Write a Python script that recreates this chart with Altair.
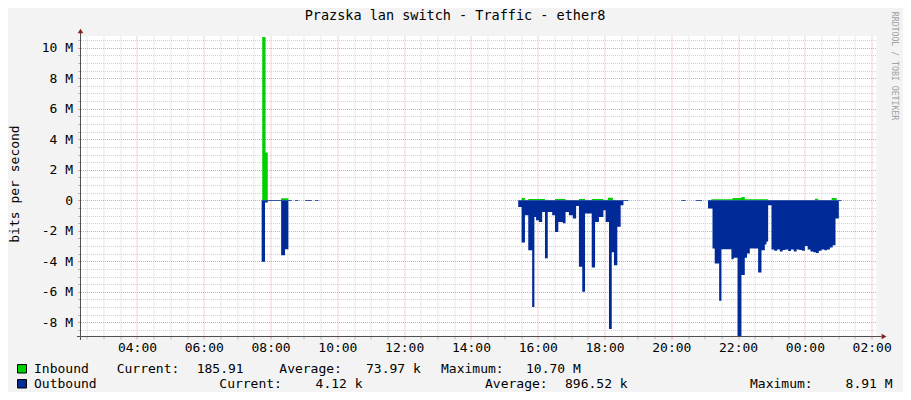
import altair as alt
import pandas as pd

# ---------------- texts ----------------
title_text = "Prazska lan switch - Traffic - ether8"
y_title = "bits per second"
watermark = "RRDTOOL / TOBI OETIKER"
series_names = ["Inbound", "Outbound"]
series_colors = ["#00CF00", "#002A97"]
legend_row1 = ["Inbound", "Current:", "185.91", "Average:", "73.97 k", "Maximum:", "10.70 M"]
legend_row2 = ["Outbound", "Current:", "4.12 k", "Average:", "896.52 k", "Maximum:", "8.91 M"]

# ---------------- data (bits per second, in M) ----------------
in_times = ["07:45", "07:51", "07:55", "08:19", "08:32",
            "15:31", "15:37", "15:43", "16:13", "16:31", "16:50", "17:14", "17:25",
            "17:37", "17:58", "18:06", "18:15",
            "21:12", "21:50", "22:06", "22:12", "22:54", "00:18", "00:24", "00:48", "00:57"]
in_vals = [10.70, 3.14, 0.0, 0.13, 0.0,
           0.15, 0.0, 0.09, 0.0, 0.08, 0.0, 0.08, 0.0,
           0.08, 0.0, 0.17, 0.0,
           0.07, 0.15, 0.22, 0.07, 0.0, 0.10, 0.0, 0.15, 0.0]

out_times = ["07:44", "07:50", "07:55", "08:19", "08:26", "08:32", "08:38", "08:44", "08:50",
             "09:02", "09:14", "09:20", "09:26",
             "15:25", "15:31", "15:37", "15:43", "15:50", "15:54", "15:57", "16:02", "16:08",
             "16:13", "16:18", "16:26", "16:31", "16:37", "16:45", "16:50", "16:56", "17:03",
             "17:09", "17:14", "17:20", "17:25", "17:37", "17:43", "17:50", "17:58", "18:02",
             "18:08", "18:13", "18:17", "18:23", "18:29", "18:34", "18:43",
             "20:18", "20:26", "20:44", "20:55",
             "21:06", "21:14", "21:18", "21:26", "21:30", "21:48", "21:52", "21:59", "22:06",
             "22:12", "22:16", "22:21", "22:36", "22:42", "22:48", "22:51", "22:54",
             "23:00", "23:05", "23:10", "23:15", "23:20", "23:25", "23:30", "23:35", "23:40",
             "23:45", "23:50", "23:55", "00:00", "00:05", "00:10", "00:15", "00:20", "00:25",
             "00:30", "00:35", "00:40", "00:45", "00:50", "00:55", "01:01", "01:06"]
out_vals = [-4.03, -0.15, -0.05, -3.60, -3.20, -0.05, 0.0, -0.05, 0.0,
            -0.05, 0.0, -0.05, 0.0,
            -0.44, -2.77, -0.98, -3.27, -7.00, -1.09, -1.30, -1.42, -0.76,
            -3.80, -0.76, -0.98, -2.07, -1.42, -1.50, -0.76, -0.98, -1.20,
            -0.37, -4.36, -6.00, -0.87, -4.40, -1.42, -1.10, -0.65, -1.42,
            -8.43, -3.40, -4.25, -1.74, -0.33, -0.05, 0.0,
            -0.05, 0.0, -0.05, 0.0,
            -0.54, -3.16, -4.14, -6.58, -3.20, -3.86, -3.77, -8.91, -4.90,
            -3.77, -3.49, -3.16, -4.73, -3.27, -2.90, -2.70, -0.33,
            -3.22, -3.30, -3.22, -3.35, -3.25, -3.22, -3.33, -3.22, -3.35,
            -3.22, -3.25, -3.30, -3.00, -3.22, -3.35, -3.40, -3.45, -3.30,
            -3.22, -3.28, -3.22, -3.10, -2.95, -1.20, -0.05, 0.0]


def stamp(hhmm):
    h, m = map(int, hhmm.split(":"))
    day = 2 if h < 3 else 1
    return f"2024-05-{day:02d}T{h:02d}:{m:02d}:00"


df = pd.DataFrame({
    "t": [stamp(s) for s in in_times] + [stamp(s) for s in out_times],
    "v": in_vals + out_vals,
    "series": [series_names[0]] * len(in_times) + [series_names[1]] * len(out_times),
})

FONT = "DejaVu Sans Mono"
MAJOR = "#EBA0A0"
MINOR = "#D2D2D2"

# axis tick positions: every 30 minutes / every 0.5 M
x_ticks = []
for k in range(48):
    total = 150 + 30 * k
    x_ticks.append(alt.DateTime(year=2024, month=5, date=1 + total // 1440,
                                hours=(total % 1440) // 60, minutes=total % 60))
y_ticks = [i / 2 for i in range(-17, 22)]

major_x = "hours(datum.value) % 2 == 0 && minutes(datum.value) == 0"
major_y = "datum.value % 2 == 0"

x_enc = alt.X(
    "t:T",
    scale=alt.Scale(domain=[alt.DateTime(year=2024, month=5, date=1, hours=2, minutes=18, seconds=30),
                            alt.DateTime(year=2024, month=5, date=2, hours=2, minutes=8, seconds=40)],
                    nice=False),
    axis=alt.Axis(values=x_ticks, title=None, domain=False,
                  labelExpr=f"({major_x}) ? timeFormat(datum.value, '%H:%M') : ''",
                  labelOverlap=False, labelFlush=False, labelFont=FONT, labelFontSize=13,
                  labelColor="#000000", labelPadding=2, tickSize=3,
                  tickColor={"condition": {"test": major_x, "value": MAJOR}, "value": "#B8B8B8"},
                  gridColor={"condition": {"test": major_x, "value": MAJOR}, "value": MINOR},
                  gridDash=[1, 1], gridOpacity=1),
)
y_enc = alt.Y(
    "v:Q", stack=None,
    scale=alt.Scale(domain=[-8.893, 10.767], nice=False, zero=False),
    axis=alt.Axis(values=y_ticks, title=None, domain=False,
                  labelExpr=f"({major_y}) ? (datum.value == 0 ? '0' : datum.value + ' M') : ''",
                  labelOverlap=False, labelFlush=False, labelFont=FONT, labelFontSize=13,
                  labelColor="#000000", labelPadding=5, tickSize=3,
                  tickColor={"condition": {"test": major_y, "value": MAJOR}, "value": "#B8B8B8"},
                  gridColor={"condition": {"test": major_y, "value": MAJOR}, "value": MINOR},
                  gridDash=[1, 1], gridOpacity=1),
)

areas = alt.Chart(df).mark_area(interpolate="step-after", clip=True, opacity=1).encode(
    x=x_enc, y=y_enc, y2=alt.datum(0),
    color=alt.Color("series:N", scale=alt.Scale(domain=series_names, range=series_colors), legend=None),
)

one = alt.Data(values=[{}])


def text(s, x, y, size=13, color="#000000", align="left", angle=0):
    kw = dict(font=FONT, fontSize=size, color=color, align=align, baseline="middle")
    if angle:
        kw["angle"] = angle
    return alt.Chart(one).mark_text(**kw).encode(
        x=alt.value(x), y=alt.value(y), text=alt.value(s))


layers = [areas]
# axis lines + arrows
layers.append(alt.Chart(one).mark_rule(color="#505050", strokeWidth=1).encode(
    x=alt.value(0), y=alt.value(-3), y2=alt.value(304)))
layers.append(alt.Chart(one).mark_rule(color="#505050", strokeWidth=1).encode(
    x=alt.value(-3.5), x2=alt.value(801), y=alt.value(300.5)))
layers.append(alt.Chart(one).mark_point(shape="triangle-up", filled=True, size=30,
                                        color="#7F1F1F", opacity=1).encode(
    x=alt.value(0), y=alt.value(-5)))
layers.append(alt.Chart(one).mark_point(shape="triangle-right", filled=True, size=30,
                                        color="#7F1F1F", opacity=1).encode(
    x=alt.value(803.5), y=alt.value(300.5)))

# titles
layers.append(text(title_text, 374.5, -20.5, size=13.5, align="center"))
layers.append(text(y_title, -66, 148, align="center", angle=270))
layers.append(text(watermark, 813.5, 30, size=8.2, color="#A0A0A0", align="center", angle=90))

# legend boxes
for i, col in enumerate(series_colors):
    top = 328.5 + 15 * i
    layers.append(alt.Chart(one).mark_rect(fill=col, stroke="#000000", strokeWidth=1).encode(
        x=alt.value(-63), x2=alt.value(-54), y=alt.value(top), y2=alt.value(top + 8.5)))

row1_x = [-46.5, 36.2, 116.2, 198.8, 285.5, 360.5, 445.5]
row2_x = [-46.5, 138.8, 235.1, 404.5, 484.5, 669.5, 765.1]
for s, x in zip(legend_row1, row1_x):
    layers.append(text(s, x, 332.7))
for s, x in zip(legend_row2, row2_x):
    layers.append(text(s, x, 347.7))

chart = alt.layer(*layers).properties(
    width=796, height=300,
    padding={"left": 72.5, "top": 28, "right": 26.5, "bottom": 56},
    autosize=alt.AutoSizeParams(type="none"),
    background="#F3F3F3",
).configure_view(fill="white", stroke=None)

chart.save("out.html", embed_options={"renderer": "svg", "actions": False})
